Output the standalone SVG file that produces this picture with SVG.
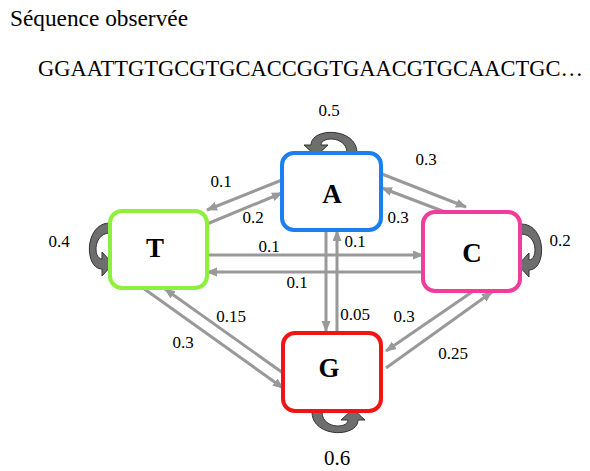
<svg xmlns="http://www.w3.org/2000/svg" width="590" height="471" viewBox="0 0 590 471">
<style>
text{font-family:"Liberation Serif","Times New Roman",serif;fill:#000}
.lbl{font-size:17px;text-anchor:middle}
.nl{font-size:27px;font-weight:bold;text-anchor:middle}
.box{fill:#fff;stroke-width:4}
.c{stroke:#999;stroke-width:3;fill:none;marker-end:url(#ah)}
.loop{fill:#6e6e6e;stroke:#333;stroke-width:1}
</style>
<defs>
<marker id="ah" markerUnits="userSpaceOnUse" markerWidth="12" markerHeight="10" refX="10" refY="4.5" orient="auto">
<path d="M0,0 L11,4.5 L0,9 z" fill="#999"/>
</marker>
<path id="curl" d="M23,0 C23,-26 -23,-26 -23,-8 L-30,-8 L-18,3 L-6,-8 L-13,-8 C-13,-17 13,-17 13,0 Z"/>
</defs>
<rect width="590" height="471" fill="#fff"/>
<text x="10" y="26" font-size="23" textLength="178" lengthAdjust="spacingAndGlyphs">Séquence observée</text>
<text x="38" y="76" font-size="22.4" textLength="545" lengthAdjust="spacingAndGlyphs">GGAATTGTGCGTGCACCGGTGAACGTGCAACTGC…</text>

<g id="connectors">
<line class="c" x1="282" y1="180" x2="207" y2="210"/>
<line class="c" x1="207" y1="224" x2="282" y2="193"/>
<line class="c" x1="382" y1="174" x2="466" y2="207"/>
<line class="c" x1="445" y1="212" x2="382" y2="188"/>
<line class="c" x1="207" y1="255" x2="423" y2="255"/>
<line class="c" x1="423" y1="272" x2="207" y2="272"/>
<line class="c" x1="326" y1="230" x2="326" y2="331"/>
<line class="c" x1="337" y1="333" x2="337" y2="231"/>
<line class="c" x1="143" y1="288" x2="283" y2="388"/>
<line class="c" x1="283" y1="373" x2="165" y2="289"/>
<line class="c" x1="472" y1="292" x2="386" y2="351"/>
<line class="c" x1="386" y1="368" x2="492" y2="292"/>
<use href="#curl" class="loop" transform="translate(334,153)"/>
<use href="#curl" class="loop" transform="translate(110,246) rotate(-90)"/>
<use href="#curl" class="loop" transform="translate(521,247) scale(-1,1) rotate(-90)"/>
<use href="#curl" class="loop" transform="translate(335,412) rotate(180)"/>
</g>

<g id="nodeA"><rect class="box" x="282" y="153" width="99" height="77" rx="12" stroke="#1a7ff0"/><text class="nl" x="332" y="203">A</text></g>
<g id="nodeT"><rect class="box" x="110" y="211" width="97" height="77" rx="12" stroke="#8cf03c"/><text class="nl" x="155" y="257">T</text></g>
<g id="nodeC"><rect class="box" x="423" y="212" width="97" height="79" rx="12" stroke="#f03c9b"/><text class="nl" x="472" y="262">C</text></g>
<g id="nodeG"><rect class="box" x="283" y="333" width="98" height="78" rx="12" stroke="#f01414"/><text class="nl" x="329" y="377">G</text></g>

<g id="labels">
<text class="lbl" x="329" y="116">0.5</text>
<text class="lbl" x="426" y="165">0.3</text>
<text class="lbl" x="221" y="187">0.1</text>
<text class="lbl" x="253" y="223">0.2</text>
<text class="lbl" x="398" y="223">0.3</text>
<text class="lbl" x="59" y="247">0.4</text>
<text class="lbl" x="560" y="246">0.2</text>
<text class="lbl" x="269" y="252">0.1</text>
<text class="lbl" x="355" y="247">0.1</text>
<text class="lbl" x="297" y="288">0.1</text>
<text class="lbl" x="231" y="322">0.15</text>
<text class="lbl" x="355" y="320">0.05</text>
<text class="lbl" x="404" y="322">0.3</text>
<text class="lbl" x="183" y="348">0.3</text>
<text class="lbl" x="453" y="359">0.25</text>
<text x="337" y="465" font-size="21" text-anchor="middle">0.6</text>
</g>
</svg>
